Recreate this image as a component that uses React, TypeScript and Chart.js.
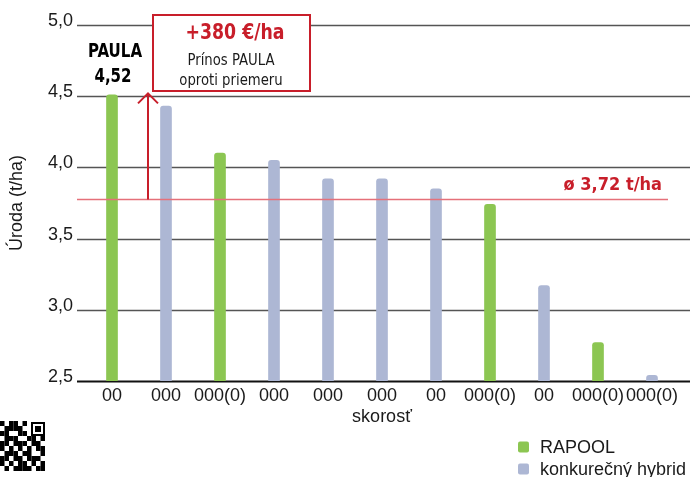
import React, { useEffect, useRef } from 'react';
import { Chart, registerables } from 'chart.js';

Chart.register(...registerables);

const categories = ['00', '000', '000(0)', '000', '000', '000', '00', '000(0)', '00', '000(0)', '000(0)'];
const rapoolValues = [4.51, null, 4.1, null, null, null, null, 3.74, null, 2.77, null];
const hybridValues = [null, 4.43, null, 4.05, 3.92, 3.92, 3.85, null, 3.17, null, 2.54];
const yMin = 2.5;
const yMax = 5.0;
const yStep = 0.5;
const averageValue = 3.775;
const averageLabel = 'ø 3,72 t/ha';
const paulaValue = 4.52;
const paulaName = 'PAULA';
const paulaLabel = '4,52';
const gainTitle = '+380 €/ha';
const gainLines = ['Prínos PAULA', 'oproti priemeru'];
const legendLabels = ['RAPOOL', 'konkurečný hybrid'];
const xTitle = 'skorosť';
const yTitle = 'Úroda (t/ha)';

const GREEN = '#8cc652';
const BLUE = '#adb7d4';
const RED = '#c81e2a';
const AVG_RED = '#e5707a';
const TEXT = '#1a1a1a';
const COND = "'DejaVu Sans Condensed', 'Liberation Sans Narrow', sans-serif";
const SANS = "'Liberation Sans', Arial, sans-serif";

const qrRows = [
  '101101',
  '011110',
  '110011',
  '0111001101',
  '1101110110',
  '1010101011',
  '0111011001',
  '1101101110',
  '1010110101',
  '0101111011',
];

function drawScaled(ctx: CanvasRenderingContext2D, text: string, x: number, y: number, font: string, sx: number, align: CanvasTextAlign) {
  ctx.save();
  ctx.translate(x, y);
  ctx.scale(sx, 1);
  ctx.font = font;
  ctx.textAlign = align;
  ctx.textBaseline = 'alphabetic';
  ctx.fillText(text, 0, 0);
  ctx.restore();
}

const decorPlugin = {
  id: 'decor',
  beforeDatasetsDraw(chart: any) {
    const { ctx } = chart;
    const y = chart.scales.y;
    ctx.save();
    y.ticks.forEach((t: any) => {
      const py = Math.round(y.getPixelForValue(t.value)) + 0.5;
      const isBase = Math.abs(t.value - yMin) < 1e-6;
      ctx.strokeStyle = isBase ? '#111' : '#555';
      ctx.lineWidth = isBase ? 2 : 1.5;
      ctx.beginPath();
      ctx.moveTo(77, py);
      ctx.lineTo(690, py);
      ctx.stroke();
    });
    ctx.restore();
  },
  afterDatasetsDraw(chart: any) {
    const { ctx } = chart;
    const x = chart.scales.x;
    const y = chart.scales.y;
    ctx.save();

    // average line
    const ay = y.getPixelForValue(averageValue);
    ctx.strokeStyle = AVG_RED;
    ctx.lineWidth = 1.5;
    ctx.beginPath();
    ctx.moveTo(77, ay);
    ctx.lineTo(668, ay);
    ctx.stroke();

    ctx.fillStyle = RED;
    drawScaled(ctx, averageLabel, 662, 190, `bold 18px ${COND}`, 1, 'right');

    // arrow
    const ax = x.getPixelForValue(0) + 36;
    const tipY = y.getPixelForValue(paulaValue);
    ctx.strokeStyle = RED;
    ctx.lineWidth = 2;
    ctx.beginPath();
    ctx.moveTo(ax, ay);
    ctx.lineTo(ax, tipY + 1);
    ctx.stroke();
    ctx.beginPath();
    ctx.moveTo(ax - 10, tipY + 10);
    ctx.lineTo(ax, tipY);
    ctx.lineTo(ax + 10, tipY + 10);
    ctx.stroke();

    // box
    ctx.fillStyle = '#fff';
    ctx.fillRect(153, 15, 157, 76);
    ctx.strokeStyle = RED;
    ctx.lineWidth = 2;
    ctx.strokeRect(153, 15, 157, 76);
    ctx.fillStyle = RED;
    drawScaled(ctx, gainTitle, 235, 39, `bold 22px ${COND}`, 0.875, 'center');
    ctx.fillStyle = TEXT;
    drawScaled(ctx, gainLines[0], 231, 65, `15.5px ${COND}`, 0.95, 'center');
    drawScaled(ctx, gainLines[1], 231, 85, `15.5px ${COND}`, 0.95, 'center');

    // PAULA label
    const px = x.getPixelForValue(0);
    ctx.fillStyle = '#000';
    drawScaled(ctx, paulaName, px + 3, 57, `bold 19px ${COND}`, 0.88, 'center');
    drawScaled(ctx, paulaLabel, px + 1, 82, `bold 19px ${COND}`, 0.88, 'center');

    // legend
    const colors = [GREEN, BLUE];
    const ys = [447, 469];
    ctx.textAlign = 'left';
    ctx.textBaseline = 'middle';
    ctx.font = `18px ${SANS}`;
    legendLabels.forEach((lab, i) => {
      ctx.fillStyle = colors[i];
      ctx.beginPath();
      (ctx as any).roundRect(518, ys[i] - 5.5, 11, 11, 2);
      ctx.fill();
      ctx.fillStyle = TEXT;
      ctx.fillText(lab, 540, ys[i] + 1);
    });

    // QR fragment (decoration)
    ctx.fillStyle = '#000';
    qrRows.forEach((row, r) => {
      for (let c = 0; c < row.length; c++) {
        if (row[c] === '1') ctx.fillRect(c * 4.5, 421 + r * 5, 4.5, 5);
      }
    });
    ctx.fillRect(31, 422, 14, 14);
    ctx.fillStyle = '#fff';
    ctx.fillRect(33, 424, 10, 10);
    ctx.fillStyle = '#000';
    ctx.fillRect(35, 426, 6, 6);

    ctx.restore();
  },
};

export default function App() {
  const ref = useRef<HTMLCanvasElement>(null);
  useEffect(() => {
    document.body.style.margin = '0';
    const chart = new Chart(ref.current as HTMLCanvasElement, {
      type: 'bar',
      data: {
        labels: categories,
        datasets: [
          {
            label: legendLabels[0],
            data: rapoolValues,
            backgroundColor: GREEN,
            barThickness: 11,
            grouped: false,
            borderRadius: { topLeft: 3, topRight: 3, bottomLeft: 0, bottomRight: 0 },
            borderSkipped: 'bottom',
          } as any,
          {
            label: legendLabels[1],
            data: hybridValues,
            backgroundColor: BLUE,
            barThickness: 11,
            grouped: false,
            borderRadius: { topLeft: 3, topRight: 3, bottomLeft: 0, bottomRight: 0 },
            borderSkipped: 'bottom',
          } as any,
        ],
      },
      options: {
        responsive: false,
        animation: false,
        devicePixelRatio: 1,
        layout: { padding: { top: 25, right: 12, left: 0, bottom: 0 } },
        plugins: {
          legend: { display: false },
          tooltip: { enabled: false },
        },
        scales: {
          x: {
            grid: { display: false, drawTicks: false },
            border: { display: false },
            ticks: {
              color: TEXT,
              font: { family: SANS, size: 18 },
              padding: 4,
              maxRotation: 0,
              autoSkip: false,
            },
            title: {
              display: true,
              text: xTitle,
              color: TEXT,
              font: { family: SANS, size: 18 },
              padding: { top: 0, bottom: 49 },
            },
            afterFit: (s: any) => {
              s.height = 96;
            },
          },
          y: {
            min: yMin,
            max: yMax,
            grid: { display: false, drawTicks: false },
            border: { display: false },
            ticks: {
              stepSize: yStep,
              color: TEXT,
              font: { family: SANS, size: 18 },
              padding: 12,
              labelOffset: -4,
              callback: (v: any) => Number(v).toFixed(1).replace('.', ','),
            },
            title: {
              display: true,
              text: yTitle,
              color: TEXT,
              font: { family: SANS, size: 18 },
              padding: { top: 6, bottom: 0 },
            },
            afterFit: (s: any) => {
              s.width = 85;
            },
          },
        },
      },
      plugins: [decorPlugin],
    });
    return () => chart.destroy();
  }, []);
  return <canvas ref={ref} width={691} height={477} style={{ display: 'block' }} />;
}
